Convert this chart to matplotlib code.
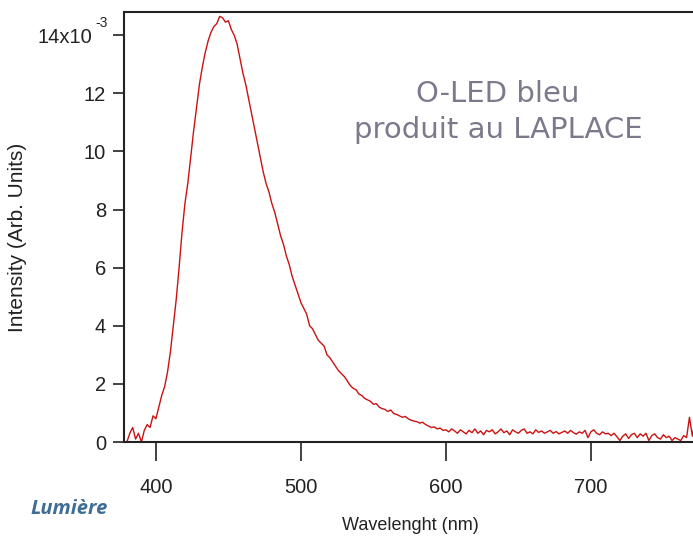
import matplotlib
matplotlib.use("Agg")
import matplotlib.pyplot as plt
import matplotlib.transforms as mtransforms
from matplotlib import font_manager as fm

# ---------------- data ----------------
wavelength_start = 380
wavelength_step = 2
intensity_e3 = [
    0.0, 0.3, 0.5, 0.1, 0.3, 0.0, 0.4, 0.6, 0.5, 0.9,            # 380-398
    0.8, 1.2, 1.6, 1.9, 2.4, 3.1, 4.0, 4.9, 6.0, 7.2,            # 400-418
    8.2, 8.9, 9.8, 10.7, 11.5, 12.3, 12.9, 13.4, 13.8, 14.1,     # 420-438
    14.3, 14.4, 14.65, 14.6, 14.45, 14.5, 14.2, 14.0, 13.7, 13.2,  # 440-458
    12.7, 12.3, 11.8, 11.3, 10.8, 10.3, 9.8, 9.3, 8.9, 8.6,      # 460-478
    8.2, 7.9, 7.5, 7.1, 6.8, 6.4, 6.1, 5.7, 5.4, 5.1,            # 480-498
    4.8, 4.6, 4.4, 4.0, 3.9, 3.7, 3.5, 3.4, 3.3, 3.0,            # 500-518
    2.9, 2.75, 2.6, 2.45, 2.35, 2.25, 2.1, 1.95, 1.85, 1.8,      # 520-538
    1.65, 1.6, 1.5, 1.45, 1.4, 1.3, 1.32, 1.2, 1.15, 1.12,       # 540-558
    1.05, 1.1, 0.98, 0.95, 0.9, 0.85, 0.88, 0.8, 0.75, 0.72,     # 560-578
    0.7, 0.65, 0.68, 0.6, 0.55, 0.5, 0.52, 0.45, 0.48, 0.4,      # 580-598
    0.42, 0.35, 0.45, 0.38, 0.3, 0.42, 0.35, 0.28, 0.4, 0.32,    # 600-618
    0.45, 0.3, 0.38, 0.25, 0.4, 0.35, 0.42, 0.28, 0.35, 0.45,    # 620-638
    0.32, 0.38, 0.25, 0.42, 0.35, 0.3, 0.4, 0.45, 0.3, 0.35,     # 640-658
    0.28, 0.42, 0.33, 0.38, 0.3, 0.35, 0.4, 0.3, 0.36, 0.28,     # 660-678
    0.33, 0.38, 0.3, 0.4, 0.32, 0.27, 0.35, 0.3, 0.4, 0.15,      # 680-698
    0.35, 0.42, 0.3, 0.25, 0.35, 0.28, 0.3, 0.22, 0.3, 0.18,     # 700-718
    0.05, 0.2, 0.28, 0.12, 0.25, 0.3, 0.15, 0.28, 0.2, 0.3,      # 720-738
    0.05, 0.22, 0.28, 0.15, 0.1, 0.25, 0.15, 0.2, 0.05, 0.15,    # 740-758
    0.1, 0.05, 0.22, 0.15, 0.85, 0.2, 0.75, 0.4, 0.6, 0.8,       # 760-778
    0.25,                                                        # 780
]
wavelengths = [wavelength_start + wavelength_step * i for i in range(len(intensity_e3))]
intensity = [v * 1e-3 for v in intensity_e3]

x_ticks = [400, 500, 600, 700]
y_ticks_e3 = [0, 2, 4, 6, 8, 10, 12, 14]
y_tick_labels = ["0", "2", "4", "6", "8", "10", "12", "14x10"]

# ---------------- fonts ----------------
names = {f.name for f in fm.fontManager.ttflist}
narrow = "Liberation Sans Narrow" if "Liberation Sans Narrow" in names else "Liberation Sans"
TICK_FS = 16 if narrow == "Liberation Sans Narrow" else 14.5

fig = plt.figure(figsize=(6.93, 5.42), dpi=100)
ax = fig.add_axes([124 / 693, 1 - 442 / 542, 1 - 124 / 693 + 0.02, (442 - 12) / 542])

ax.plot(wavelengths, intensity, color="#cc1111", lw=1.0)

ax.set_xlim(378, 780)
ax.set_ylim(0, 14.8e-3)
ax.set_xticks(x_ticks)
ax.set_xticklabels([str(t) for t in x_ticks], fontfamily=narrow, fontsize=TICK_FS)
ax.set_yticks([v * 1e-3 for v in y_ticks_e3])
ax.set_yticklabels(y_tick_labels, fontfamily=narrow, fontsize=TICK_FS)
ax.tick_params(axis="x", direction="out", length=14, width=1.2, pad=12, colors="#222222")
ax.tick_params(axis="y", direction="out", length=8, width=1.2, pad=5, colors="#222222")
for lbl in ax.get_xticklabels() + ax.get_yticklabels():
    lbl.set_color("#222222")

# superscript for the 14x10^-3 label
fig.text(95 / 693, 1 - 23 / 542, "-3", fontfamily=narrow, fontsize=10,
         color="#222222", ha="left", va="center")
lbl14 = ax.get_yticklabels()[-1]
lbl14.set_transform(lbl14.get_transform() + mtransforms.ScaledTranslation(-14 / 100, 0, fig.dpi_scale_trans))

for s in ["left", "bottom", "top"]:
    ax.spines[s].set_linewidth(1.5)
    ax.spines[s].set_color("#222222")
ax.spines["right"].set_visible(False)

fig.text(18 / 693, 1 - 237 / 542, "Intensity (Arb. Units)", rotation=90,
         fontfamily="Liberation Sans", fontsize=15, color="#222222",
         ha="center", va="center")
fig.text(410 / 693, 1 - 526 / 542, "Wavelenght (nm)", fontfamily=narrow,
         fontsize=13, color="#222222", ha="center", va="center")

fig.text(498 / 693, 1 - 112 / 542, "O-LED bleu\nproduit au LAPLACE",
         fontfamily="DejaVu Sans", fontsize=21, color="#7a7a8c",
         ha="center", va="center", linespacing=1.4)

fig.text(30 / 693, 1 - 509 / 542, "Lumière", fontfamily="Open Sans", fontsize=14.5,
         fontweight="bold", fontstyle="italic", color="#3f6d96", ha="left", va="center")

fig.savefig("out.png", dpi=100)
